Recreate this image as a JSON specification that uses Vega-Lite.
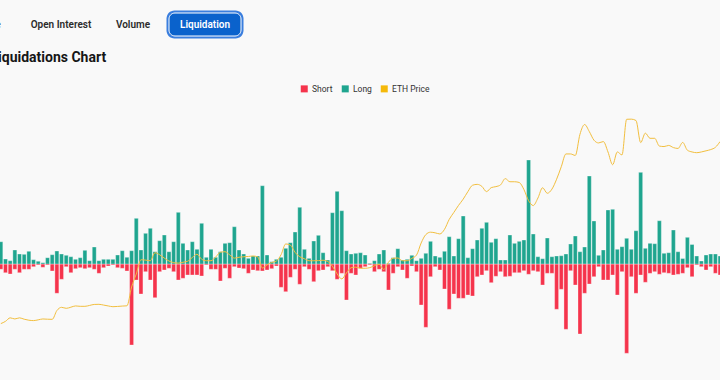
{
  "$schema": "https://vega.github.io/schema/vega-lite/v6.json",
  "width": 720,
  "height": 380,
  "autosize": {"type": "none"},
  "padding": 0,
  "background": "#f9f9f9",
  "config": {
    "view": {"stroke": null},
    "font": "Roboto",
    "axis": {"labels": false, "ticks": false, "domain": false, "grid": true, "gridColor": "#dddddd", "gridDash": [4, 3], "gridWidth": 1}
  },
  "datasets": {
    "tabs": [
      {"tab": "Price", "state": "idle", "row": "tabs"},
      {"tab": "Open Interest", "state": "idle", "row": "tabs"},
      {"tab": "Volume", "state": "idle", "row": "tabs"},
      {"tab": "Liquidation", "state": "active", "row": "tabs"}
    ],
    "heading": [{"label": "Liquidations Chart", "row": "title"}],
    "liq": [
      {"d":"2023-10-14","Long":5.68,"Short":-1.35,"price":1770},
      {"d":"2023-10-15","Long":1.27,"Short":-2.22,"price":1788},
      {"d":"2023-10-16","Long":0.84,"Short":-2.55,"price":1816},
      {"d":"2023-10-17","Long":3.57,"Short":-1.35,"price":1807},
      {"d":"2023-10-18","Long":2.55,"Short":-2.22,"price":1816},
      {"d":"2023-10-19","Long":2.47,"Short":-1.35,"price":1805},
      {"d":"2023-10-20","Long":3.24,"Short":-1.35,"price":1797},
      {"d":"2023-10-21","Long":1.10,"Short":-0.69,"price":1794},
      {"d":"2023-10-22","Long":0.69,"Short":-0.25,"price":1800},
      {"d":"2023-10-23","Long":0.33,"Short":-0.84,"price":1807},
      {"d":"2023-10-24","Long":1.61,"Short":-0.25,"price":1805},
      {"d":"2023-10-25","Long":2.37,"Short":-1.78,"price":1804},
      {"d":"2023-10-26","Long":3.31,"Short":-7.46,"price":1874},
      {"d":"2023-10-27","Long":2.55,"Short":-3.90,"price":1900},
      {"d":"2023-10-28","Long":2.22,"Short":-0.69,"price":1892},
      {"d":"2023-10-29","Long":1.86,"Short":-2.22,"price":1901},
      {"d":"2023-10-30","Long":1.20,"Short":-1.20,"price":1911},
      {"d":"2023-10-31","Long":1.61,"Short":-0.94,"price":1908},
      {"d":"2023-11-01","Long":3.49,"Short":-1.20,"price":1908},
      {"d":"2023-11-02","Long":0.84,"Short":-0.94,"price":1915},
      {"d":"2023-11-03","Long":4.33,"Short":-1.35,"price":1923},
      {"d":"2023-11-04","Long":0.84,"Short":-2.37,"price":1924},
      {"d":"2023-11-05","Long":1.20,"Short":-0.94,"price":1918},
      {"d":"2023-11-06","Long":1.20,"Short":-0.51,"price":1911},
      {"d":"2023-11-07","Long":1.20,"Short":-0.25,"price":1905},
      {"d":"2023-11-08","Long":2.29,"Short":-0.94,"price":1907},
      {"d":"2023-11-09","Long":3.39,"Short":-1.10,"price":1910},
      {"d":"2023-11-10","Long":1.71,"Short":-1.78,"price":1912},
      {"d":"2023-11-11","Long":3.39,"Short":-20.64,"price":2062},
      {"d":"2023-11-12","Long":11.64,"Short":-4.08,"price":2166},
      {"d":"2023-11-13","Long":3.57,"Short":-7.64,"price":2280},
      {"d":"2023-11-14","Long":7.82,"Short":-1.96,"price":2277},
      {"d":"2023-11-15","Long":9.10,"Short":-4.08,"price":2272},
      {"d":"2023-11-16","Long":3.13,"Short":-8.59,"price":2336},
      {"d":"2023-11-17","Long":5.94,"Short":-1.96,"price":2320},
      {"d":"2023-11-18","Long":7.39,"Short":-1.53,"price":2293},
      {"d":"2023-11-19","Long":3.13,"Short":-1.10,"price":2270},
      {"d":"2023-11-20","Long":5.68,"Short":-1.96,"price":2257},
      {"d":"2023-11-21","Long":13.17,"Short":-4.08,"price":2253},
      {"d":"2023-11-22","Long":5.27,"Short":-3.64,"price":2260},
      {"d":"2023-11-23","Long":3.57,"Short":-2.80,"price":2268},
      {"d":"2023-11-24","Long":5.68,"Short":-2.80,"price":2298},
      {"d":"2023-11-25","Long":3.75,"Short":-2.80,"price":2324},
      {"d":"2023-11-26","Long":10.37,"Short":-3.06,"price":2284},
      {"d":"2023-11-27","Long":1.71,"Short":-0.25,"price":2272},
      {"d":"2023-11-28","Long":3.75,"Short":-1.35,"price":2272},
      {"d":"2023-11-29","Long":1.71,"Short":-1.35,"price":2302},
      {"d":"2023-11-30","Long":3.13,"Short":-4.33,"price":2340},
      {"d":"2023-12-01","Long":5.27,"Short":-1.10,"price":2344},
      {"d":"2023-12-02","Long":5.43,"Short":-3.64,"price":2319},
      {"d":"2023-12-03","Long":9.50,"Short":-0.69,"price":2293},
      {"d":"2023-12-04","Long":3.57,"Short":-1.02,"price":2300},
      {"d":"2023-12-05","Long":2.55,"Short":-1.20,"price":2304},
      {"d":"2023-12-06","Long":1.45,"Short":-2.37,"price":2306},
      {"d":"2023-12-07","Long":2.04,"Short":-1.53,"price":2310},
      {"d":"2023-12-08","Long":2.04,"Short":-1.71,"price":2303},
      {"d":"2023-12-09","Long":19.95,"Short":-1.78,"price":2214},
      {"d":"2023-12-10","Long":2.29,"Short":-1.53,"price":2239},
      {"d":"2023-12-11","Long":0.59,"Short":-1.20,"price":2258},
      {"d":"2023-12-12","Long":1.20,"Short":-0.51,"price":2270},
      {"d":"2023-12-13","Long":1.71,"Short":-5.94,"price":2320},
      {"d":"2023-12-14","Long":4.00,"Short":-7.06,"price":2406},
      {"d":"2023-12-15","Long":5.43,"Short":-3.39,"price":2397},
      {"d":"2023-12-16","Long":8.15,"Short":-1.35,"price":2339},
      {"d":"2023-12-17","Long":14.45,"Short":-5.17,"price":2304},
      {"d":"2023-12-18","Long":3.75,"Short":-0.69,"price":2288},
      {"d":"2023-12-19","Long":1.45,"Short":-1.35,"price":2272},
      {"d":"2023-12-20","Long":5.86,"Short":-4.51,"price":2272},
      {"d":"2023-12-21","Long":7.31,"Short":-1.71,"price":2273},
      {"d":"2023-12-22","Long":2.88,"Short":-1.53,"price":2276},
      {"d":"2023-12-23","Long":1.02,"Short":-0.69,"price":2266},
      {"d":"2023-12-24","Long":13.07,"Short":-1.71,"price":2228},
      {"d":"2023-12-25","Long":18.52,"Short":-3.90,"price":2167},
      {"d":"2023-12-26","Long":13.58,"Short":-2.37,"price":2127},
      {"d":"2023-12-27","Long":3.39,"Short":-9.17,"price":2174},
      {"d":"2023-12-28","Long":2.55,"Short":-2.37,"price":2216},
      {"d":"2023-12-29","Long":2.73,"Short":-2.80,"price":2221},
      {"d":"2023-12-30","Long":2.88,"Short":-1.10,"price":2212},
      {"d":"2023-12-31","Long":2.29,"Short":-0.69,"price":2212},
      {"d":"2024-01-01","Long":0.18,"Short":-0.25,"price":2217},
      {"d":"2024-01-02","Long":0.84,"Short":-1.96,"price":2232},
      {"d":"2024-01-03","Long":2.55,"Short":-1.35,"price":2244},
      {"d":"2024-01-04","Long":3.57,"Short":-1.96,"price":2202},
      {"d":"2024-01-05","Long":0.18,"Short":-6.62,"price":2260},
      {"d":"2024-01-06","Long":1.61,"Short":-2.37,"price":2292},
      {"d":"2024-01-07","Long":3.90,"Short":-0.69,"price":2294},
      {"d":"2024-01-08","Long":1.02,"Short":-1.53,"price":2272},
      {"d":"2024-01-09","Long":1.20,"Short":-3.64,"price":2272},
      {"d":"2024-01-10","Long":2.22,"Short":-0.51,"price":2291},
      {"d":"2024-01-11","Long":0.84,"Short":-1.96,"price":2317},
      {"d":"2024-01-12","Long":1.45,"Short":-10.45,"price":2414},
      {"d":"2024-01-13","Long":2.73,"Short":-16.13,"price":2481},
      {"d":"2024-01-14","Long":5.78,"Short":-3.24,"price":2500},
      {"d":"2024-01-15","Long":2.04,"Short":-0.69,"price":2495},
      {"d":"2024-01-16","Long":1.71,"Short":-1.53,"price":2486},
      {"d":"2024-01-17","Long":3.24,"Short":-6.37,"price":2523},
      {"d":"2024-01-18","Long":6.96,"Short":-11.54,"price":2602},
      {"d":"2024-01-19","Long":2.04,"Short":-7.64,"price":2658},
      {"d":"2024-01-20","Long":6.45,"Short":-8.74,"price":2714},
      {"d":"2024-01-21","Long":12.23,"Short":-8.74,"price":2764},
      {"d":"2024-01-22","Long":1.61,"Short":-7.90,"price":2824},
      {"d":"2024-01-23","Long":3.90,"Short":-8.15,"price":2875},
      {"d":"2024-01-24","Long":6.11,"Short":-3.24,"price":2882},
      {"d":"2024-01-25","Long":9.10,"Short":-2.80,"price":2866},
      {"d":"2024-01-26","Long":10.62,"Short":-1.71,"price":2824},
      {"d":"2024-01-27","Long":5.53,"Short":-4.76,"price":2856},
      {"d":"2024-01-28","Long":6.45,"Short":-3.13,"price":2864},
      {"d":"2024-01-29","Long":1.02,"Short":-1.96,"price":2878},
      {"d":"2024-01-30","Long":1.02,"Short":-3.24,"price":2928},
      {"d":"2024-01-31","Long":7.39,"Short":-3.13,"price":2903},
      {"d":"2024-02-01","Long":5.27,"Short":-2.22,"price":2903},
      {"d":"2024-02-02","Long":5.78,"Short":-2.22,"price":2897},
      {"d":"2024-02-03","Long":6.11,"Short":-1.71,"price":2841},
      {"d":"2024-02-04","Long":26.50,"Short":-2.62,"price":2752},
      {"d":"2024-02-05","Long":7.64,"Short":-1.71,"price":2713},
      {"d":"2024-02-06","Long":1.86,"Short":-1.96,"price":2773},
      {"d":"2024-02-07","Long":1.35,"Short":-5.35,"price":2855},
      {"d":"2024-02-08","Long":6.62,"Short":-2.37,"price":2811},
      {"d":"2024-02-09","Long":1.86,"Short":-2.37,"price":2844},
      {"d":"2024-02-10","Long":2.04,"Short":-11.54,"price":2923},
      {"d":"2024-02-11","Long":2.11,"Short":-6.45,"price":3023},
      {"d":"2024-02-12","Long":2.55,"Short":-16.64,"price":3125},
      {"d":"2024-02-13","Long":5.10,"Short":-1.71,"price":3125},
      {"d":"2024-02-14","Long":7.13,"Short":-5.35,"price":3113},
      {"d":"2024-02-15","Long":3.13,"Short":-17.83,"price":3282},
      {"d":"2024-02-16","Long":4.33,"Short":-7.46,"price":3360},
      {"d":"2024-02-17","Long":22.42,"Short":-5.10,"price":3304},
      {"d":"2024-02-18","Long":10.96,"Short":-3.24,"price":3235},
      {"d":"2024-02-19","Long":2.22,"Short":-0.69,"price":3213},
      {"d":"2024-02-20","Long":3.57,"Short":-4.08,"price":3224},
      {"d":"2024-02-21","Long":13.76,"Short":-4.08,"price":3141},
      {"d":"2024-02-22","Long":13.94,"Short":-2.80,"price":3039},
      {"d":"2024-02-23","Long":3.75,"Short":-7.90,"price":3141},
      {"d":"2024-02-24","Long":4.41,"Short":-1.96,"price":3117},
      {"d":"2024-02-25","Long":6.55,"Short":-22.75,"price":3402},
      {"d":"2024-02-26","Long":3.75,"Short":-3.24,"price":3403},
      {"d":"2024-02-27","Long":8.48,"Short":-7.46,"price":3392},
      {"d":"2024-02-28","Long":23.36,"Short":-2.80,"price":3216},
      {"d":"2024-02-29","Long":4.00,"Short":-4.66,"price":3291},
      {"d":"2024-03-01","Long":5.27,"Short":-2.37,"price":3250},
      {"d":"2024-03-02","Long":5.17,"Short":-1.96,"price":3250},
      {"d":"2024-03-03","Long":11.03,"Short":-2.62,"price":3188},
      {"d":"2024-03-04","Long":2.73,"Short":-2.22,"price":3184},
      {"d":"2024-03-05","Long":2.88,"Short":-2.37,"price":3193},
      {"d":"2024-03-06","Long":8.66,"Short":-2.80,"price":3176},
      {"d":"2024-03-07","Long":3.13,"Short":-2.62,"price":3169},
      {"d":"2024-03-08","Long":1.40,"Short":-2.37,"price":3217},
      {"d":"2024-03-09","Long":6.80,"Short":-0.94,"price":3155},
      {"d":"2024-03-10","Long":4.97,"Short":-3.24,"price":3141},
      {"d":"2024-03-11","Long":2.04,"Short":-0.25,"price":3135},
      {"d":"2024-03-12","Long":0.76,"Short":-0.69,"price":3141},
      {"d":"2024-03-13","Long":2.29,"Short":-1.53,"price":3150},
      {"d":"2024-03-14","Long":2.55,"Short":-0.69,"price":3160},
      {"d":"2024-03-15","Long":2.55,"Short":-2.37,"price":3178},
      {"d":"2024-03-16","Long":2.04,"Short":-2.80,"price":3224}
    ]
  },
  "layer": [
    {
      "data": {"name": "tabs"},
      "encoding": {
        "x": {"field": "tab", "type": "nominal", "axis": null, "scale": {"type": "point", "domain": ["Price", "Open Interest", "Volume", "Liquidation"], "range": [-11, 205], "padding": 0}},
        "y": {"field": "row", "type": "nominal", "axis": null, "scale": {"type": "point", "domain": ["tabs", "title"], "range": [24.5, 58], "padding": 0}}
      },
      "layer": [
        {"transform": [{"filter": "datum.state === 'active'"}], "mark": {"type": "rect", "width": 77, "height": 28, "cornerRadius": 8, "fill": "#3a7ede"}},
        {"transform": [{"filter": "datum.state === 'active'"}], "mark": {"type": "rect", "width": 72, "height": 23, "cornerRadius": 6, "fill": "#0a62cc", "stroke": "#ffffff", "strokeWidth": 1}},
        {
          "mark": {"type": "text", "font": "Roboto", "fontSize": 10, "fontWeight": 600, "baseline": "middle"},
          "encoding": {
            "text": {"field": "tab"},
            "color": {"condition": {"test": "datum.state === 'active'", "value": "#ffffff"}, "value": "#2b2b2b"}
          }
        }
      ]
    },
    {
      "data": {"name": "heading"},
      "mark": {"type": "text", "align": "left", "baseline": "middle", "font": "Roboto", "fontSize": 14, "fontWeight": "bold", "color": "#161616"},
      "encoding": {
        "x": {"field": "label", "type": "nominal", "axis": null, "scale": {"type": "point", "range": [-9.5, -9.5], "padding": 0}},
        "y": {"field": "row", "type": "nominal", "axis": null, "scale": {"type": "point", "domain": ["tabs", "title"], "range": [24.5, 58], "padding": 0}},
        "text": {"field": "label"}
      }
    },
    {
      "data": {"name": "liq"},
      "layer": [
        {
          "transform": [{"fold": ["Short", "Long"], "as": ["type", "value"]}],
          "mark": {"type": "bar", "clip": true, "stroke": "#ffffff", "strokeOpacity": 0.4, "strokeWidth": 0.8},
          "encoding": {
            "x": {"field": "d", "type": "ordinal", "axis": null, "scale": {"type": "band", "range": [-1.5, 722.4], "paddingInner": 0.15, "paddingOuter": 0.075}},
            "y": {"field": "value", "type": "quantitative", "stack": null, "scale": {"domain": [-29.55, 67.26], "nice": false}, "axis": {"values": [-20, 0, 20, 40], "title": null}},
            "color": {
              "field": "type", "type": "nominal",
              "scale": {"domain": ["Short", "Long", "ETH Price"], "range": ["#f5344c", "#1fa58f", "#f5b90a"]},
              "legend": {"orient": "none", "legendX": 300, "legendY": 84.5, "direction": "horizontal", "title": null, "symbolType": "square", "symbolSize": 49, "symbolStrokeWidth": 0, "labelFont": "Roboto", "labelFontSize": 8.5, "labelColor": "#333333", "labelOffset": 3.5, "columnPadding": 8, "padding": 0}
            }
          }
        },
        {
          "mark": {"type": "line", "clip": true, "interpolate": "monotone", "color": "#f2bf3f", "strokeWidth": 1},
          "encoding": {
            "x": {"field": "d", "type": "ordinal", "axis": null, "bandPosition": 0.5, "scale": {"type": "band", "range": [-1.5, 722.4], "paddingInner": 0.15, "paddingOuter": 0.075}},
            "y": {"field": "price", "type": "quantitative", "scale": {"domain": [1319.5, 4354.6], "nice": false, "zero": false}, "axis": {"orient": "right", "values": [1500, 2000, 2500, 3000, 3500], "title": null}}
          }
        }
      ],
      "resolve": {"scale": {"y": "independent"}}
    }
  ],
  "resolve": {"scale": {"x": "independent", "y": "independent", "color": "independent"}}
}
